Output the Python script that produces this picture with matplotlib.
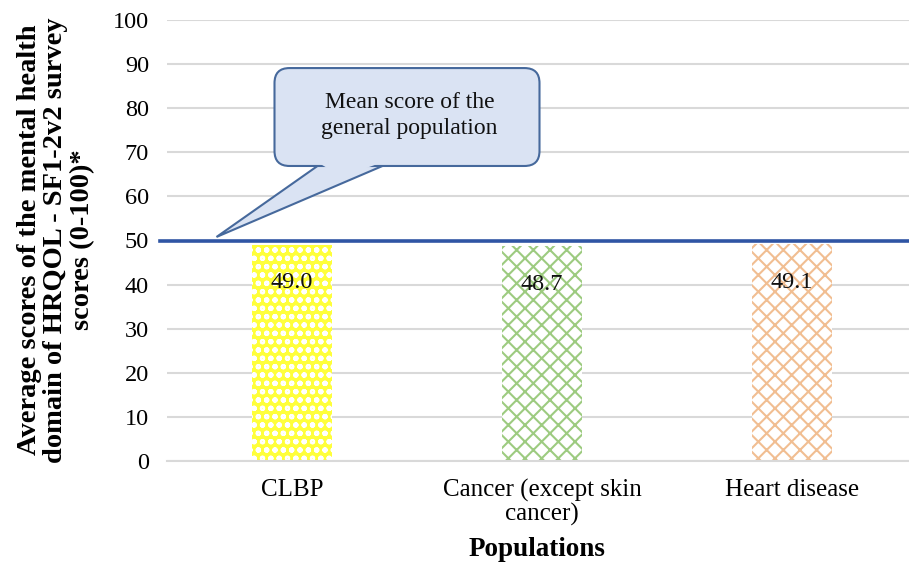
import matplotlib
matplotlib.use("Agg")
import matplotlib.pyplot as plt
from matplotlib.patches import FancyBboxPatch, Polygon

plt.rcParams['font.family'] = ['Liberation Serif', 'DejaVu Serif']
plt.rcParams['hatch.linewidth'] = 1.5

populations = ['CLBP', 'Cancer (except skin\ncancer)', 'Heart disease']
scores = [49.0, 48.7, 49.1]
score_labels = ['49.0', '48.7', '49.1']
general_mean = 50
bar_faces = ['#FFFF3A', 'white', 'white']
bar_edges = ['white', '#9DCB80', '#F1BE92']
bar_hatches = ['oo', 'xx', 'xx']

fig = plt.figure(figsize=(9.09, 5.70), dpi=100)
ax = fig.add_axes([167 / 909, 109 / 570, 742 / 909, 441 / 570])

x = list(range(len(populations)))
for i in x:
    ax.bar(i, scores[i], width=0.318, color=bar_faces[i], edgecolor=bar_edges[i],
           hatch=bar_hatches[i], linewidth=0, zorder=2)
    ax.text(i, scores[i] - 8.6, score_labels[i], ha='center', va='center',
            fontsize=17.5, color='#111111', zorder=4)

ax.axhline(general_mean, xmin=-7 / 742, xmax=1, color='#2F55A4', linewidth=2.6,
           zorder=3, clip_on=False)

ax.set_xlim(-0.5, 2.468)
ax.set_ylim(0, 100)
ax.set_yticks(range(0, 101, 10))
ax.set_xticks(x)
ax.set_xticklabels(populations, fontsize=18, multialignment='center', linespacing=1.05)
ax.tick_params(axis='y', length=0, pad=13, labelsize=17.5)
ax.tick_params(axis='x', length=0, pad=13)
ax.yaxis.grid(True, color='#D9D9D9', linewidth=1.5, zorder=0)
ax.set_axisbelow(True)
for s in ['top', 'right', 'left']:
    ax.spines[s].set_visible(False)
ax.spines['bottom'].set_color('#D9D9D9')
ax.spines['bottom'].set_linewidth(1.5)

ax.set_xlabel('Populations', fontsize=19.5, fontweight='bold', va='center')
ax.xaxis.set_label_coords((537 - 167) / 742, (461 - 550) / 441)
ax.set_ylabel('Average scores of the mental health\ndomain of HRQOL - SF1-2v2 survey\nscores (0-100)*',
              fontsize=20.5, fontweight='bold', multialignment='center', linespacing=1.1,
              va='center', ha='center')
ax.yaxis.set_label_coords(-(167 - 56) / 742, (461 - 240) / 441)

# callout box
fill = '#DAE3F3'
edge = '#46699C'
tail = [(0.102, 66.9), (0.362, 66.9), (-0.302, general_mean + 0.8)]
ax.add_patch(Polygon(tail, closed=True, facecolor=fill, edgecolor=edge, linewidth=1.5,
                     zorder=5, clip_on=False))
box = FancyBboxPatch((-0.07 + 0.06, 66.9 + 3.4), 1.06 - 0.12, 22.2 - 6.8,
                     boxstyle='round,pad=0.06,rounding_size=0.06', mutation_aspect=56.7,
                     facecolor=fill, edgecolor=edge, linewidth=1.5, zorder=6)
ax.add_patch(box)
seam = [(0.112, 67.4), (0.345, 67.4), (0.2, 64.5)]
ax.add_patch(Polygon(seam, closed=True, facecolor=fill, edgecolor='none', zorder=7))
ax.text(0.47, 78.3, 'Mean score of the\ngeneral population', ha='center', va='center',
        fontsize=17, color='#111111', linespacing=1.3, zorder=8)

fig.savefig('out.png', dpi=100)
